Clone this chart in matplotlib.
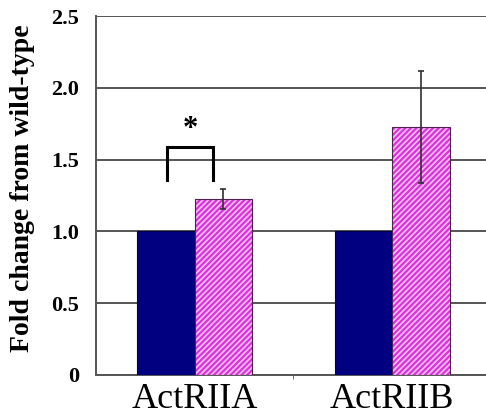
import numpy as np
import matplotlib
matplotlib.use("Agg")
import matplotlib.pyplot as plt

# data
receptors = ["ActRIIA", "ActRIIB"]
wild_type = [1.0, 1.0]
mutant = [1.225, 1.725]
mutant_err = [0.07, 0.39]
yticks = [0, 0.5, 1.0, 1.5, 2.0, 2.5]
ytick_labels = ["0", "0.5", "1.0", "1.5", "2.0", "2.5"]

plt.rcParams["hatch.linewidth"] = 1.6

fig = plt.figure(figsize=(4.86, 4.15), dpi=100)
ax = fig.add_axes([0.1975, 0.0964, 0.8128, 0.865])

x = np.arange(len(receptors))
w = 0.29
ax.bar(x - w / 2, wild_type, w, color="#000080", edgecolor="#000040", linewidth=0.8, zorder=3)
# hatch takes the edge colour, so draw the hatched fill and the outline separately
ax.bar(x + w / 2, mutant, w, color="#f9c0f9", edgecolor="#d933d9", linewidth=0,
       hatch="//////", zorder=3)
ax.bar(x + w / 2, mutant, w, fill=False, edgecolor="#502050", linewidth=0.8, zorder=3)
ax.errorbar(x + w / 2, mutant, yerr=mutant_err, fmt="none", ecolor="#303030",
            elinewidth=1.2, capsize=2, capthick=1.2, zorder=4)

# significance bracket
bx0, bx1, by0, by1 = -0.138, 0.094, 1.358, 1.59
ax.plot([bx0, bx0, bx1, bx1], [by0, by1, by1, by0], color="black", lw=2.2,
        solid_joinstyle="miter", zorder=5)
ax.text((bx0 + bx1) / 2, 1.71, "*", ha="center", va="center", fontsize=22,
        fontweight="bold", family="Liberation Serif")

ax.set_xlim(-0.5, 1.5)
ax.set_ylim(0, 2.5)
ax.set_yticks(yticks)
ax.set_yticklabels(ytick_labels, family="Liberation Serif", fontweight="bold", fontsize=16)
ax.yaxis.grid(True, color="#555555", lw=1.4, zorder=0)
ax.tick_params(axis="y", length=0, pad=12)
ax.set_xticks(x)
ax.set_xticklabels(receptors, family="Liberation Serif", fontsize=26)
ax.tick_params(axis="x", length=0, pad=6)
ax.set_xticks([0.5], minor=True)
ax.tick_params(axis="x", which="minor", length=3, color="#555555")
for s in ["top", "right"]:
    ax.spines[s].set_visible(False)
for s in ["left", "bottom"]:
    ax.spines[s].set_color("#555555")
    ax.spines[s].set_linewidth(1.4)
ax.set_ylabel("Fold change from wild-type", family="Liberation Serif",
              fontweight="bold", fontsize=20)
ax.yaxis.set_label_coords(-0.155, 0.52)

fig.savefig("out.png", dpi=100)
